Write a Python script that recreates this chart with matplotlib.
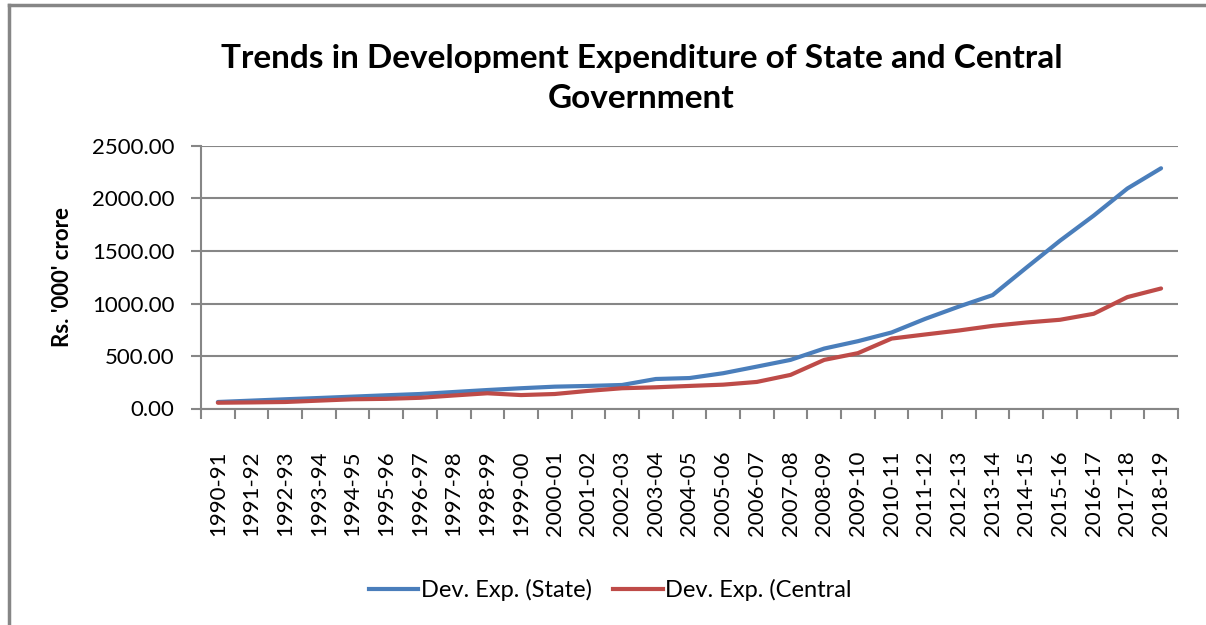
import matplotlib
matplotlib.use("Agg")
import matplotlib.pyplot as plt
import numpy as np
from matplotlib.lines import Line2D

plt.rcParams['font.family'] = ['Lato', 'DejaVu Sans']

years = ['1990-91', '1991-92', '1992-93', '1993-94', '1994-95', '1995-96',
         '1996-97', '1997-98', '1998-99', '1999-00', '2000-01', '2001-02',
         '2002-03', '2003-04', '2004-05', '2005-06', '2006-07', '2007-08',
         '2008-09', '2009-10', '2010-11', '2011-12', '2012-13', '2013-14',
         '2014-15', '2015-16', '2016-17', '2017-18', '2018-19']
state = [62, 75, 88, 100, 113, 126, 138, 157, 176, 193, 208, 215, 224, 281,
         290, 336, 399, 463, 571, 641, 724, 854, 971, 1080, 1341, 1598, 1837,
         2095, 2288]
central = [55, 58, 62, 75, 88, 92, 102, 124, 145, 128, 138, 168, 193, 202,
           215, 227, 253, 320, 463, 527, 666, 705, 743, 787, 819, 845, 902,
           1061, 1143]

blue = '#4A7EBB'
red = '#BE4B48'
gray = '#868686'

fig = plt.figure(figsize=(12.06, 6.25), dpi=100)
ax = fig.add_axes([0.1667, 0.3464, 0.81, 0.42])

x = np.arange(len(years))
ax.plot(x, state, color=blue, lw=3, solid_capstyle='round', label='Dev. Exp. (State)')
ax.plot(x, central, color=red, lw=3, solid_capstyle='round', label='Dev. Exp. (Central')

ax.set_xlim(-0.5, len(years) - 0.5)
ax.set_ylim(0, 2500)
ax.set_yticks(np.arange(0, 2501, 500))
ax.set_yticklabels(['%.2f' % v for v in np.arange(0, 2501, 500)], fontsize=16)
ax.yaxis.grid(True, color=gray, lw=1.5)
ax.set_axisbelow(True)

ax.set_xticks(np.arange(-0.5, len(years), 1), minor=False)
ax.set_xticklabels([])
ax.set_xticks(x, minor=True)
ax.set_xticklabels(years, minor=True, rotation=90, fontsize=16)
ax.tick_params(axis='x', which='major', length=7, width=1.5, color=gray)
ax.tick_params(axis='x', which='minor', length=0, pad=30)
ax.tick_params(axis='y', length=7, width=1.5, color=gray, pad=12)

for s in ['top', 'right']:
    ax.spines[s].set_visible(False)
for s in ['left', 'bottom']:
    ax.spines[s].set_color(gray)
    ax.spines[s].set_linewidth(1.5)

ax.set_ylabel("Rs. '000' crore", fontsize=16, fontweight='bold', labelpad=14)

fig.text(0.532, 0.874, 'Trends in Development Expenditure of State and Central\nGovernment',
         ha='center', va='center', fontsize=24, fontweight='bold', linespacing=1.45)

handles = [Line2D([], [], color=blue, lw=3), Line2D([], [], color=red, lw=3)]
fig.legend(handles, ['Dev. Exp. (State)', 'Dev. Exp. (Central'], loc='center',
           bbox_to_anchor=(0.506, 0.056), ncol=2, frameon=False, fontsize=17,
           handlelength=2.1, handletextpad=0.1, columnspacing=0.9)

# outer chart border (left and top only visible)
fig.add_artist(Line2D([0.0075, 0.0075], [0, 0.992], color=gray, lw=2.5, transform=fig.transFigure))
fig.add_artist(Line2D([0.0075, 1], [0.992, 0.992], color=gray, lw=2.5, transform=fig.transFigure))

fig.savefig('out.png', dpi=100)
